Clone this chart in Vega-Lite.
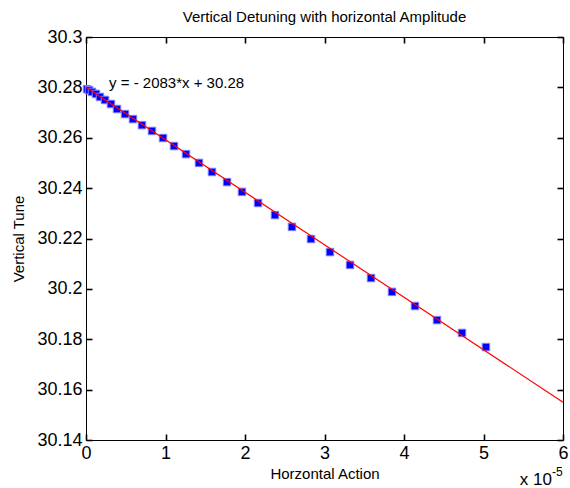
{
  "$schema": "https://vega.github.io/schema/vega-lite/v6.json",
  "width": 477,
  "height": 403,
  "autosize": {"type": "none"},
  "padding": {"left": 86, "top": 37, "right": 7, "bottom": 48},
  "background": "white",
  "config": {
    "font": "Liberation Sans",
    "view": {"stroke": "black", "strokeWidth": 1},
    "axis": {"grid": false, "domain": false, "labelColor": "black", "titleColor": "black", "labelFont": "Liberation Sans", "titleFont": "Liberation Sans", "titleFontWeight": "normal"}
  },
  "title": {"text": "Vertical Detuning with horizontal Amplitude", "fontSize": 15, "fontWeight": "normal", "font": "Liberation Sans", "color": "black", "offset": 3, "anchor": "middle"},
  "datasets": {
    "points": [
      {"action": 0.013, "tune": 30.2793},
      {"action": 0.038, "tune": 30.2789},
      {"action": 0.075, "tune": 30.2782},
      {"action": 0.126, "tune": 30.2774},
      {"action": 0.176, "tune": 30.2762},
      {"action": 0.239, "tune": 30.2750},
      {"action": 0.314, "tune": 30.2734},
      {"action": 0.390, "tune": 30.2714},
      {"action": 0.491, "tune": 30.2694},
      {"action": 0.591, "tune": 30.2674},
      {"action": 0.704, "tune": 30.2650},
      {"action": 0.830, "tune": 30.2627},
      {"action": 0.969, "tune": 30.2599},
      {"action": 1.107, "tune": 30.2567},
      {"action": 1.258, "tune": 30.2535},
      {"action": 1.421, "tune": 30.2500},
      {"action": 1.585, "tune": 30.2464},
      {"action": 1.774, "tune": 30.2424},
      {"action": 1.962, "tune": 30.2385},
      {"action": 2.164, "tune": 30.2341},
      {"action": 2.377, "tune": 30.2293},
      {"action": 2.591, "tune": 30.2246},
      {"action": 2.830, "tune": 30.2198},
      {"action": 3.069, "tune": 30.2146},
      {"action": 3.321, "tune": 30.2095},
      {"action": 3.585, "tune": 30.2043},
      {"action": 3.849, "tune": 30.1988},
      {"action": 4.138, "tune": 30.1932},
      {"action": 4.415, "tune": 30.1876},
      {"action": 4.730, "tune": 30.1825},
      {"action": 5.031, "tune": 30.1769}
    ],
    "fit": [
      {"action": 0, "tune": 30.28},
      {"action": 6, "tune": 30.15502}
    ],
    "notes": [
      {"action": 0.29, "tune": 30.2797, "label": "y = - 2083*x + 30.28"}
    ],
    "scale": [
      {"action": 6, "tune": 30.14, "base": "x 10", "exp": "-5"}
    ]
  },
  "layer": [
    {
      "data": {"name": "points"},
      "mark": {"type": "square", "filled": true, "color": "#0000ff", "size": 56, "stroke": "#7f7fff", "strokeWidth": 1, "opacity": 1},
      "encoding": {
        "x": {"field": "action", "type": "quantitative", "scale": {"domain": [0, 6], "nice": false, "zero": false},
          "axis": {"orient": "bottom", "values": [0, 1, 2, 3, 4, 5, 6], "format": "d", "ticks": true, "tickColor": "#000000", "tickSize": 6, "offset": -6, "tickWidth": 1.6, "labelPadding": 4, "labelFontSize": 18, "labelFlush": false, "title": "Horzontal Action", "titleFontSize": 15, "titlePadding": 4}},
        "y": {"field": "tune", "type": "quantitative", "scale": {"domain": [30.14, 30.3], "nice": false, "zero": false},
          "axis": {"orient": "left", "values": [30.14, 30.16, 30.18, 30.2, 30.22, 30.24, 30.26, 30.28, 30.3], "format": ".2~f", "ticks": true, "tickColor": "#000000", "tickSize": 6, "offset": -6, "tickWidth": 1.6, "labelPadding": 4, "labelFontSize": 18, "labelFlush": false, "title": "Vertical Tune", "titleFontSize": 15, "titlePadding": 10}}
      }
    },
    {
      "data": {"name": "fit"},
      "mark": {"type": "line", "color": "#ff0000", "strokeWidth": 1.2, "clip": true},
      "encoding": {
        "x": {"field": "action", "type": "quantitative",
          "axis": {"orient": "top", "values": [0, 1, 2, 3, 4, 5, 6], "ticks": true, "tickColor": "#000000", "tickSize": 6, "offset": -6, "tickWidth": 1.6, "labels": false, "title": null}},
        "y": {"field": "tune", "type": "quantitative",
          "axis": {"orient": "right", "values": [30.14, 30.16, 30.18, 30.2, 30.22, 30.24, 30.26, 30.28, 30.3], "ticks": true, "tickColor": "#000000", "tickSize": 6, "offset": -6, "tickWidth": 1.6, "labels": false, "title": null}}
      }
    },
    {
      "data": {"name": "notes"},
      "mark": {"type": "text", "align": "left", "baseline": "alphabetic", "fontSize": 15, "color": "black"},
      "encoding": {
        "x": {"field": "action", "type": "quantitative", "axis": null},
        "y": {"field": "tune", "type": "quantitative", "axis": null},
        "text": {"field": "label"}
      }
    },
    {
      "data": {"name": "scale"},
      "mark": {"type": "text", "align": "right", "baseline": "alphabetic", "fontSize": 17, "color": "black", "dx": -11, "dy": 45},
      "encoding": {
        "x": {"field": "action", "type": "quantitative", "axis": null},
        "y": {"field": "tune", "type": "quantitative", "axis": null},
        "text": {"field": "base"}
      }
    },
    {
      "data": {"name": "scale"},
      "mark": {"type": "text", "align": "left", "baseline": "alphabetic", "fontSize": 12, "color": "black", "dx": -11, "dy": 36},
      "encoding": {
        "x": {"field": "action", "type": "quantitative", "axis": null},
        "y": {"field": "tune", "type": "quantitative", "axis": null},
        "text": {"field": "exp"}
      }
    }
  ],
  "resolve": {"axis": {"x": "independent", "y": "independent"}}
}
